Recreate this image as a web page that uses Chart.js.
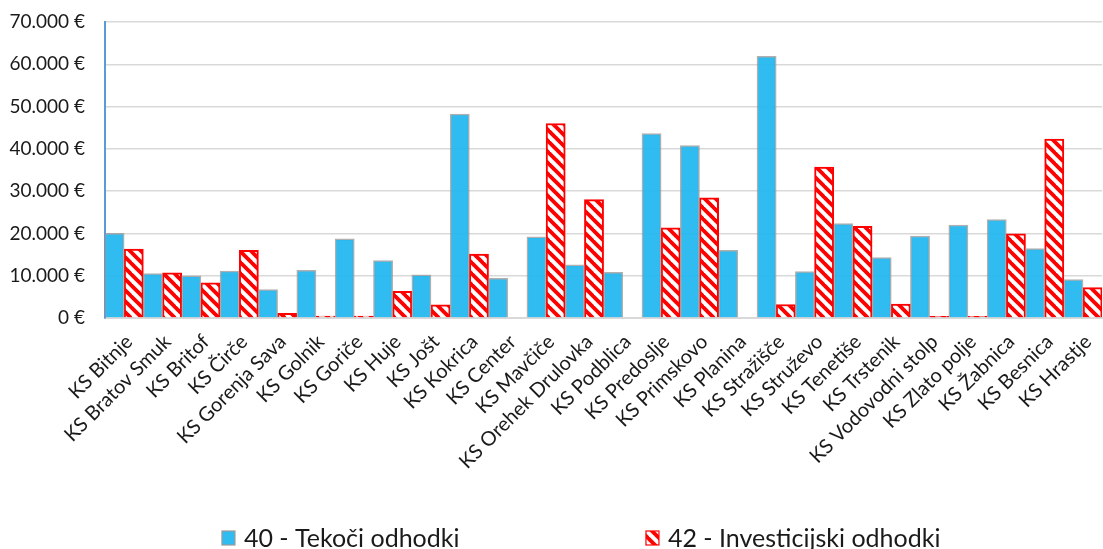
<!DOCTYPE html>
<html><head><meta charset="utf-8">
<script src="https://cdn.jsdelivr.net/npm/chart.js@4.4.1/dist/chart.umd.min.js"></script>
<style>html,body{margin:0;padding:0;overflow:hidden;background:#fff}#wrap{width:1112px;height:549px}</style>
</head><body><div id="wrap"><canvas id="c" width="1112" height="549"></canvas></div>
<script>
const categories = ['KS Bitnje','KS Bratov Smuk','KS Britof','KS Čirče','KS Gorenja Sava','KS Golnik','KS Goriče','KS Huje','KS Jošt','KS Kokrica','KS Center','KS Mavčiče','KS Orehek Drulovka','KS Podblica','KS Predoslje','KS Primskovo','KS Planina','KS Stražišče','KS Struževo','KS Tenetiše','KS Trstenik','KS Vodovodni stolp','KS Zlato polje','KS Žabnica','KS Besnica','KS Hrastje'];
const tekoci = [20000,10500,10000,11100,6700,11300,18700,13600,10200,48200,9400,19200,12600,10800,43600,40800,16000,61900,11000,22300,14300,19400,22000,23300,16400,9100];
const investicijski = [16300,10700,8300,16000,1100,450,450,6300,3100,15100,0,46000,28000,0,21300,28400,0,3200,35700,21700,3300,400,400,19900,42300,7200];
const seriesNames = ['40 - Tekoči odhodki','42 - Investicijski odhodki'];
const yMax = 70000, yStep = 10000;

const ctx = document.getElementById('c').getContext('2d');
function makeHatch(){
  const s = 11, c = document.createElement('canvas'); c.width = c.height = s;
  const g = c.getContext('2d'); g.fillStyle = '#fff'; g.fillRect(0,0,s,s);
  g.strokeStyle = '#ff0000'; g.lineWidth = 3.8;
  for (const k of [-s,0,s]) { g.beginPath(); g.moveTo(k-2,-2); g.lineTo(k+s+2,s+2); g.stroke(); }
  return ctx.createPattern(c,'repeat');
}
const hatch = makeHatch();
const FONT = 'Lato';

const customLegend = {
  id: 'customLegend',
  afterDraw(chart){
    const c = chart.ctx; c.save();
    const W = chart.width;
    const xs = [W*0.1996, W*0.5809];
    const y = 538;
    c.font = '25px ' + FONT; c.textBaseline = 'middle'; c.textAlign = 'left';
    chart.data.datasets.forEach((ds, i) => {
      const x = xs[i];
      c.fillStyle = ds.backgroundColor; c.fillRect(x, y-7, 13, 14);
      c.strokeStyle = ds.legendBorder; c.lineWidth = 1.2; c.strokeRect(x, y-7, 13, 14);
      c.fillStyle = '#1a1a1a'; c.fillText(ds.label, x + 22, y + 1);
    });
    c.restore();
  }
};

new Chart(ctx, {
  type: 'bar',
  data: {
    labels: categories,
    datasets: [
      { label: seriesNames[0], data: tekoci, backgroundColor: 'rgba(32,183,240,0.93)', borderColor: 'rgba(150,150,150,0.75)', legendBorder: '#9a9a9a', borderWidth: 1.5, categoryPercentage: 1.0, barPercentage: 1.0 },
      { label: seriesNames[1], data: investicijski, backgroundColor: hatch, borderColor: '#ff0000', legendBorder: '#ff0000', borderWidth: 2, categoryPercentage: 1.0, barPercentage: 1.0 }
    ]
  },
  options: {
    responsive: false, animation: false,
    layout: { padding: { top: 22, right: 0, bottom: 0, left: 0 } },
    plugins: { legend: { display: false }, tooltip: { enabled: false } },
    scales: {
      x: {
        grid: { display: false, drawTicks: false },
        border: { display: true, color: '#d9d9d9', width: 2 },
        ticks: { autoSkip: false, maxRotation: 45, minRotation: 45, padding: 12, labelOffset: 5, color: '#1a1a1a', font: { family: FONT, size: 20 } },
        afterFit(s){ s.height = 231; }
      },
      y: {
        min: 0, max: yMax,
        grid: { color: '#d9d9d9', lineWidth: 1.5, drawTicks: false },
        border: { display: true, color: '#5b9bd5', width: 2 },
        ticks: { stepSize: yStep, padding: 20, color: '#1a1a1a', font: { family: FONT, size: 19 },
          callback: v => String(v).replace(/\B(?=(\d{3})+(?!\d))/g, '.') + ' €' },
        afterFit(s){ s.width = 105; s.paddingTop = 0; s.paddingBottom = 0; }
      }
    }
  },
  plugins: [customLegend]
});
</script></body></html>
